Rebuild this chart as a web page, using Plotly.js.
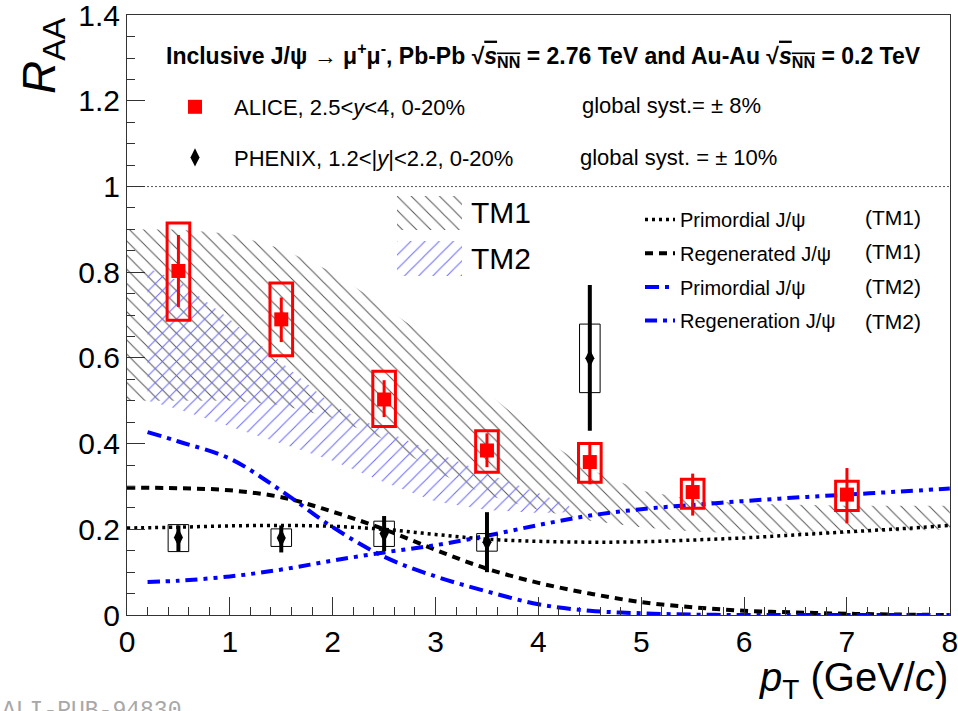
<!DOCTYPE html>
<html><head><meta charset="utf-8">
<script src="https://cdn.plot.ly/plotly-3.0.1.min.js"></script>
<style>html,body{margin:0;padding:0;background:#fff}#chart{width:958px;height:711px}</style>
</head><body><div id="chart"></div>
<script>
// ---------------- data ----------------
const aliceX = [0.5, 1.5, 2.5, 3.5, 4.5, 5.5, 7.0];
const aliceY = [0.803, 0.690, 0.503, 0.384, 0.357, 0.287, 0.281];
const aliceStatHi = [0.887, 0.741, 0.548, 0.424, 0.404, 0.330, 0.343];
const aliceStatLo = [0.719, 0.637, 0.462, 0.345, 0.305, 0.232, 0.214];
const aliceSysHi = [0.915, 0.775, 0.569, 0.430, 0.400, 0.317, 0.312];
const aliceSysLo = [0.688, 0.605, 0.440, 0.333, 0.310, 0.249, 0.244];

const phenixX = [0.5, 1.5, 2.5, 3.5, 4.5];
const phenixY = [0.181, 0.180, 0.190, 0.170, 0.599];
const phenixStatHi = [0.209, 0.209, 0.231, 0.240, 0.770];
const phenixStatLo = [0.149, 0.146, 0.149, 0.100, 0.430];
const phenixSysHi = [0.211, 0.201, 0.219, 0.190, 0.679];
const phenixSysLo = [0.148, 0.160, 0.160, 0.149, 0.519];

const tm1X  = [0, 0.5, 1, 1.5, 2, 2.5, 3, 3.5, 4, 4.5, 5, 5.5, 6, 6.5, 7, 7.5, 8];
const tm1Hi = [0.90, 0.90, 0.89, 0.855, 0.80, 0.72, 0.635, 0.52, 0.42, 0.34, 0.29, 0.27, 0.26, 0.257, 0.255, 0.255, 0.255];
const tm1Lo = [0.50, 0.50, 0.50, 0.49, 0.46, 0.41, 0.335, 0.28, 0.245, 0.22, 0.205, 0.195, 0.19, 0.19, 0.19, 0.195, 0.20];

const tm2X  = [0.2, 0.5, 1, 1.5, 2, 2.5, 3, 3.5, 4, 4.3];
const tm2Hi = [0.81, 0.78, 0.69, 0.59, 0.49, 0.43, 0.38, 0.33, 0.285, 0.255];
const tm2Lo = [0.50, 0.48, 0.44, 0.40, 0.36, 0.31, 0.265, 0.245, 0.238, 0.24];

const curveX = [0, 0.5, 1, 1.5, 2, 2.5, 3, 3.5, 4, 4.5, 5, 5.5, 6, 6.5, 7, 7.5, 8];
const tm1Prim  = [0.203, 0.205, 0.208, 0.209, 0.207, 0.200, 0.188, 0.177, 0.172, 0.170, 0.171, 0.175, 0.180, 0.187, 0.194, 0.201, 0.209];
const tm1Regen = [0.297, 0.296, 0.291, 0.275, 0.241, 0.200, 0.152, 0.108, 0.075, 0.050, 0.030, 0.018, 0.010, 0.006, 0.003, 0.001, 0.0];
const tm2CurveX = [0.2, 0.5, 1, 1.5, 2, 2.5, 3, 3.5, 4, 4.5, 5, 5.5, 6, 6.5, 7, 7.5, 8];
const tm2Prim  = [0.427, 0.405, 0.365, 0.290, 0.205, 0.136, 0.090, 0.055, 0.025, 0.010, 0.004, 0.001, 0.0, 0.0, 0.0, 0.0, 0.0];
const tm2Regen = [0.077, 0.080, 0.090, 0.106, 0.127, 0.146, 0.163, 0.185, 0.210, 0.232, 0.247, 0.257, 0.266, 0.274, 0.281, 0.288, 0.295];

const xTicks = [0, 1, 2, 3, 4, 5, 6, 7, 8];
const xTickText = ['0', '1', '2', '3', '4', '5', '6', '7', '8'];
const yTicks = [0, 0.2, 0.4, 0.6, 0.8, 1, 1.2, 1.4];
const yTickText = ['0', '0.2', '0.4', '0.6', '0.8', '1', '1.2', '1.4'];

const swatchX = [0, 1, 1, 0, 0];
const swatchY = [0, 0, 1, 1, 0];

// ---------------- layout helpers (pixel -> paper) ----------------
const L = 127, T = 15, W = 823, H = 600;
const px = v => (v - L) / W;
const py = v => (T + H - v) / H;
const FONT = 'Liberation Sans, Arial, sans-serif';

const tm1Pattern = {shape: '\\', fgcolor: '#555555', size: 10, solidity: 0.1};
const tm2Pattern = {shape: '/', fgcolor: '#6a6aff', size: 10, solidity: 0.1};

function band(xs, hi, lo, pattern, xa, ya) {
  return {
    x: xs.concat(xs.slice().reverse()),
    y: hi.concat(lo.slice().reverse()),
    xaxis: xa, yaxis: ya,
    mode: 'lines', fill: 'toself', line: {width: 0, color: 'rgba(0,0,0,0)'},
    fillcolor: 'rgba(0,0,0,0)', fillpattern: pattern,
    showlegend: false, hoverinfo: 'skip'
  };
}

const traces = [
  band(tm1X, tm1Hi, tm1Lo, tm1Pattern, 'x', 'y'),
  band(tm2X, tm2Hi, tm2Lo, tm2Pattern, 'x', 'y'),
  {x: curveX, y: tm1Prim, mode: 'lines', name: 'Primordial J/ψ', legend: 'legend3', legendgroup: 'c1',
   line: {color: '#000', width: 3.5, dash: '3px,4px', shape: 'spline'}},
  {x: curveX, y: tm1Regen, mode: 'lines', name: 'Regenerated J/ψ', legend: 'legend3', legendgroup: 'c2',
   line: {color: '#000', width: 4, dash: '8px,6px', shape: 'spline'}},
  {x: tm2CurveX, y: tm2Prim, mode: 'lines', name: 'Primordial J/ψ', legend: 'legend3', legendgroup: 'c3',
   line: {color: '#0000ff', width: 4, dash: '14px,6px,4px,6px', shape: 'spline'}},
  {x: tm2CurveX, y: tm2Regen, mode: 'lines', name: 'Regeneration J/ψ', legend: 'legend3', legendgroup: 'c4',
   line: {color: '#0000ff', width: 4, dash: '12px,6px,4px,6px,4px,6px', shape: 'spline'}},
  {x: aliceX, y: aliceY, mode: 'markers', name: 'ALICE, 2.5&lt;<i>y</i>&lt;4, 0-20%', legend: 'legend', legendgroup: 'a',
   marker: {symbol: 'square', size: 14, color: '#ff0000'},
   error_y: {type: 'data', symmetric: false,
     array: aliceStatHi.map((v, i) => v - aliceY[i]),
     arrayminus: aliceStatLo.map((v, i) => aliceY[i] - v),
     color: '#ff0000', thickness: 3, width: 0}},
  {x: phenixX, y: phenixY, mode: 'markers', name: 'PHENIX, 1.2&lt;|<i>y</i>|&lt;2.2, 0-20%', legend: 'legend', legendgroup: 'b',
   marker: {symbol: 'diamond-tall', size: 13, color: '#000'},
   error_y: {type: 'data', symmetric: false,
     array: phenixStatHi.map((v, i) => v - phenixY[i]),
     arrayminus: phenixStatLo.map((v, i) => phenixY[i] - v),
     color: '#000', thickness: 4, width: 0}},
  // legend swatches for the two bands
  {x: swatchX, y: swatchY, xaxis: 'x2', yaxis: 'y2', mode: 'lines', fill: 'toself',
    line: {width: 0, color: 'rgba(0,0,0,0)'}, fillcolor: 'rgba(0,0,0,0)', fillpattern: tm1Pattern, showlegend: false, hoverinfo: 'skip'},
  {x: swatchX, y: swatchY, xaxis: 'x3', yaxis: 'y3', mode: 'lines', fill: 'toself',
    line: {width: 0, color: 'rgba(0,0,0,0)'}, fillcolor: 'rgba(0,0,0,0)', fillpattern: tm2Pattern, showlegend: false, hoverinfo: 'skip'}
];

const shapes = [];
shapes.push({type: 'line', xref: 'paper', yref: 'y', x0: 0, x1: 1, y0: 1, y1: 1, layer: 'below',
  line: {color: '#555', width: 1, dash: '2px,2px'}});
aliceX.forEach((x, i) => shapes.push({type: 'rect', xref: 'x', yref: 'y', x0: x - 0.11, x1: x + 0.11,
  y0: aliceSysLo[i], y1: aliceSysHi[i], line: {color: '#ff0000', width: 3}, fillcolor: 'rgba(0,0,0,0)'}));
phenixX.forEach((x, i) => shapes.push({type: 'rect', xref: 'x', yref: 'y', x0: x - 0.1, x1: x + 0.1,
  y0: phenixSysLo[i], y1: phenixSysHi[i], line: {color: '#000', width: 1}, fillcolor: 'rgba(0,0,0,0)'}));

const ov = '<span style="text-decoration:overline"><i>s</i><sub>NN</sub></span>';
const ann = (text, x, y, opts) => Object.assign({text, x, y, xref: 'paper', yref: 'paper', showarrow: false,
  xanchor: 'center', yanchor: 'middle',
  font: {family: FONT, size: 22, color: '#000'}}, opts || {});
const f = (size) => ({family: FONT, size: size, color: '#000'});

const annotations = [
  ann('<b>Inclusive J/ψ → μ<sup>+</sup>μ<sup>-</sup>, Pb-Pb √' + ov + ' = 2.76 TeV and Au-Au √' + ov + ' = 0.2 TeV</b>',
      px(543), py(55), {font: f(23)}),
  ann('global syst.= ± 8%', px(580), py(105), {xanchor: 'left'}),
  ann('global syst. = ± 10%', px(578), py(157), {xanchor: 'left'}),
  ann('TM1', px(469), py(212), {xanchor: 'left', font: f(30)}),
  ann('TM2', px(469), py(258), {xanchor: 'left', font: f(30)}),
  ann('(TM1)', px(923), py(217), {xanchor: 'right', font: f(21)}),
  ann('(TM1)', px(923), py(251), {xanchor: 'right', font: f(21)}),
  ann('(TM2)', px(923), py(286), {xanchor: 'right', font: f(21)}),
  ann('(TM2)', px(923), py(321), {xanchor: 'right', font: f(21)}),
  ann('<i>R</i><sub>AA</sub>', px(42), py(56), {textangle: -90, font: f(46)}),
  ann('<i>p</i><sub>T</sub> (GeV/<i>c</i>)', px(950), py(680), {xanchor: 'right', font: f(40)}),
  ann('ALI-PUB-94830', px(0), py(696), {xanchor: 'left', yanchor: 'top',
    font: {family: 'Liberation Mono, monospace', size: 23, color: '#a8a8a8'}})
];

const axCommon = {showgrid: false, zeroline: false, showline: true, linecolor: '#333', linewidth: 1, mirror: true,
  ticks: 'inside', tickcolor: '#333', tickwidth: 1, ticklen: 18, ticklabeloverflow: 'allow',
  tickfont: {family: FONT, size: 30, color: '#000'}};

const hiddenAx = {visible: false, range: [0, 1], fixedrange: true, showgrid: false, zeroline: false};

const layout = {
  width: 958, height: 711,
  margin: {l: L, r: 958 - L - W, t: T, b: 711 - T - H},
  paper_bgcolor: '#fff', plot_bgcolor: 'rgba(0,0,0,0)',
  font: {family: FONT},
  xaxis: Object.assign({}, axCommon, {range: [0, 8.002], tickmode: 'array', tickvals: xTicks, ticktext: xTickText,
    minor: {dtick: 0.2, tick0: 0, ticks: 'inside', ticklen: 8, tickcolor: '#333', showgrid: false}}),
  yaxis: Object.assign({}, axCommon, {range: [0, 1.4004], tickmode: 'array', tickvals: yTicks, ticktext: yTickText,
    minor: {dtick: 0.05, tick0: 0, ticks: 'inside', ticklen: 8, tickcolor: '#333', showgrid: false}}),
  xaxis2: Object.assign({}, hiddenAx, {domain: [px(397), px(462)], anchor: 'y2'}),
  yaxis2: Object.assign({}, hiddenAx, {domain: [py(230), py(196)], anchor: 'x2'}),
  xaxis3: Object.assign({}, hiddenAx, {domain: [px(397), px(462)], anchor: 'y3'}),
  yaxis3: Object.assign({}, hiddenAx, {domain: [py(276), py(241)], anchor: 'x3'}),
  legend: {x: px(156), y: py(86), xanchor: 'left', yanchor: 'top', bgcolor: 'rgba(0,0,0,0)',
    font: {family: FONT, size: 22, color: '#000'}, itemwidth: 68, tracegroupgap: 19, traceorder: 'grouped'},
  legend3: {x: px(640), y: py(200), xanchor: 'left', yanchor: 'top', bgcolor: 'rgba(0,0,0,0)',
    font: {family: FONT, size: 20, color: '#000'}, itemwidth: 30, tracegroupgap: 4.7, traceorder: 'grouped'},
  shapes, annotations,
  showlegend: true
};

Plotly.newPlot('chart', traces, layout, {staticPlot: true, displayModeBar: false});
</script></body></html>
